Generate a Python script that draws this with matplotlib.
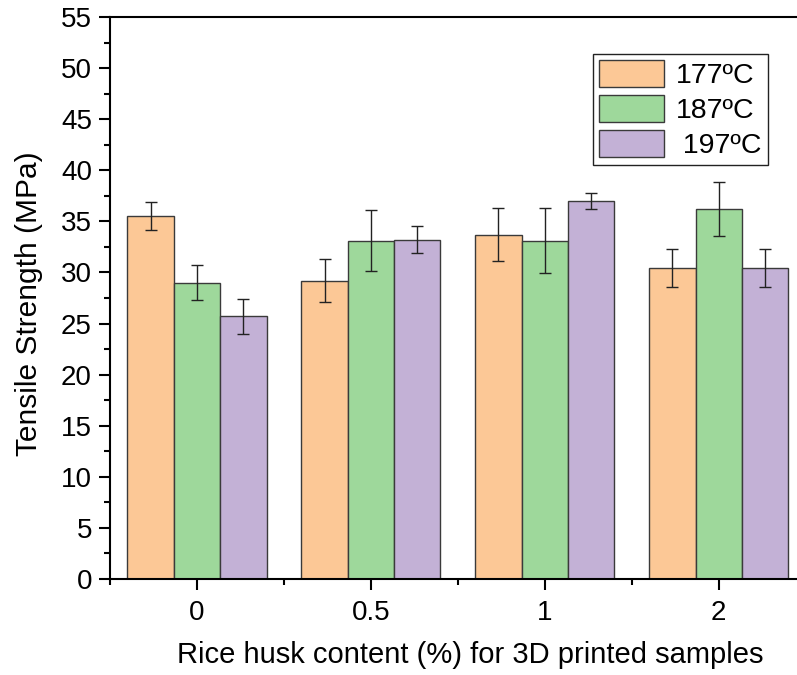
import matplotlib
matplotlib.use("Agg")
import matplotlib.pyplot as plt
import numpy as np
from matplotlib.ticker import MultipleLocator, FixedLocator

plt.rcParams["font.family"] = ["Liberation Sans", "DejaVu Sans"]

categories = ["0", "0.5", "1", "2"]
series = ["177ºC", "187ºC", " 197ºC"]
t177 = [35.5, 29.2, 33.7, 30.4]
t187 = [29.0, 33.1, 33.1, 36.2]
t197 = [25.7, 33.2, 37.0, 30.4]
e177 = [1.35, 2.1, 2.6, 1.85]
e187 = [1.7, 3.0, 3.2, 2.65]
e197 = [1.7, 1.3, 0.75, 1.85]

COLORS = ["#fcc896", "#9ed89b", "#c3b1d6"]
EDGE = "#3a3a3a"

fig = plt.figure(figsize=(7.97, 6.75), dpi=100)
ax = fig.add_axes([0.138, 0.1422, 0.873, 0.8326])

x = np.arange(len(categories))
w = 0.2667
for i, (vals, errs) in enumerate([(t177, e177), (t187, e187), (t197, e197)]):
    ax.bar(x + (i - 1) * w, vals, w, color=COLORS[i], edgecolor=EDGE, linewidth=1.0,
           label=series[i], zorder=2)
    ax.errorbar(x + (i - 1) * w, vals, yerr=errs, fmt="none", ecolor="#222222",
                elinewidth=1.0, capsize=4, capthick=1.0, zorder=3)

ax.set_xlim(-0.5, 3.5)
ax.set_ylim(0, 55)
ax.yaxis.set_major_locator(MultipleLocator(5))
ax.yaxis.set_minor_locator(MultipleLocator(2.5))
ax.set_xticks(x)
ax.set_xticklabels(categories)
ax.xaxis.set_minor_locator(FixedLocator([-0.5, 0.5, 1.5, 2.5]))

for s in ax.spines.values():
    s.set_linewidth(1.5)
ax.tick_params(axis="both", which="major", direction="out", length=8, width=1.5,
               labelsize=20, pad=5)
ax.tick_params(axis="both", which="minor", direction="out", length=4, width=1.5)
ax.tick_params(axis="x", which="major", pad=7)

ax.set_ylabel("Tensile Strength (MPa)", fontsize=21.5)
ax.yaxis.set_label_coords(-0.096, 0.49)
ax.set_xlabel("Rice husk content (%) for 3D printed samples", fontsize=21)
ax.xaxis.set_label_coords(0.518, -0.11)

leg = ax.legend(loc="upper left", bbox_to_anchor=(0.694, 0.934), fontsize=20.5,
                frameon=True, fancybox=False, edgecolor="#222222", framealpha=1,
                handlelength=2.3, handleheight=1.1, handletextpad=0.4,
                labelspacing=0.2, borderpad=0.2, borderaxespad=0)
leg.get_frame().set_linewidth(1.0)

fig.savefig("out.png", dpi=100, facecolor="white")
